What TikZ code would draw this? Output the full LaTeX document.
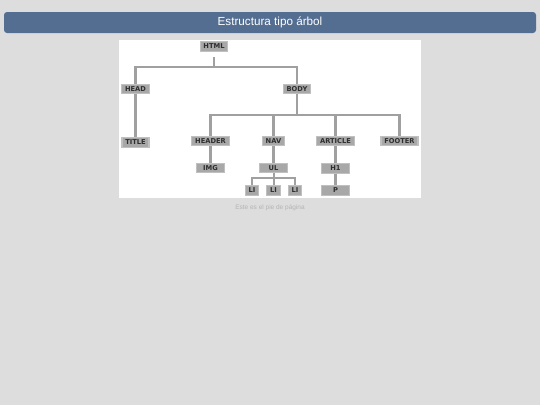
\documentclass[tikz,border=0pt]{standalone}
\usepackage{fontspec}
\setmainfont{Liberation Sans}
\newfontfamily\nodefont{DejaVu Sans}
\definecolor{bgc}{HTML}{DDDDDD}
\definecolor{barc}{HTML}{546E92}
\definecolor{linec}{HTML}{A0A0A0}
\definecolor{boxc}{HTML}{A8A8A8}
\definecolor{glowc}{HTML}{C0C0C0}
\definecolor{txtc}{HTML}{2E2E2E}
\definecolor{footc}{HTML}{B4B4B4}
\pgfdeclarelayer{bottom}
\pgfdeclarelayer{middle}
\pgfsetlayers{bottom,middle,main}
\tikzset{
  tag/.style={fill=boxc, draw=glowc, line width=1.2pt, inner xsep=3.3pt, inner ysep=0pt,
    minimum height=9.5pt, text=txtc, font=\nodefont\bfseries\fontsize{6.7}{7}\selectfont},
  tagw/.style={tag, minimum width=28pt},
  conn/.style={draw=linec, line width=2.5pt},
  thinconn/.style={draw=linec, line width=2pt},
  titletext/.style={text=white, font=\fontsize{11.7}{13}\selectfont, inner sep=0pt},
  foottext/.style={text=footc, font=\fontsize{6.5}{8}\selectfont, inner sep=0pt}
}
\begin{document}
\begin{tikzpicture}[x=1pt,y=-1pt]
\useasboundingbox (0,0) rectangle (540,405);
\begin{pgfonlayer}{bottom}
\fill[bgc] (0,0) rectangle (540,405);
\fill[barc, rounded corners=3pt] (4,12) rectangle (536,33);
\fill[white] (119,39.5) rectangle (421,197.5);
\end{pgfonlayer}
\node[titletext] (ttl) at (270,22.5) {Estructura tipo árbol};

\coordinate (b1) at (214,67);
\coordinate (b2) at (297,115);
\coordinate (b3) at (273.5,178);

\node[tag] (html) at (214,46.5) {HTML};
\node[tag] (head) at (135.5,89) {HEAD};
\node[tag] (body) at (297,89) {BODY};
\node[tag] (title) at (135.5,142.5) {TITLE};
\node[tag] (header) at (210.5,141) {HEADER};
\node[tag] (nav) at (273.5,141) {NAV};
\node[tag] (article) at (335.5,141) {ARTICLE};
\node[tag] (footer) at (399.5,141) {FOOTER};
\node[tagw] (img) at (210.5,168) {IMG};
\node[tagw] (ul) at (273.5,168) {UL};
\node[tagw] (h1) at (335.5,168.5) {H1};
\node[tag] (li1) at (252,190.5) {LI};
\node[tag] (li2) at (273.5,190.5) {LI};
\node[tag] (li3) at (295,190.5) {LI};
\node[tagw] (p) at (335.5,190.5) {P};

\begin{pgfonlayer}{middle}
\draw[conn] ([yshift=-5pt]html.south) -- (b1);
\draw[conn] (head.north) |- (b1) -| (body.north);
\draw[conn] (head.south) -- (title.north);
\draw[conn] (body.south) -- (b2);
\draw[conn] (header.north) |- (b2) -| (footer.north);
\draw[conn] (nav.north) -- (nav.north |- b2);
\draw[conn] (article.north) -- (article.north |- b2);
\draw[conn] (header.south) -- (img.north);
\draw[conn] (nav.south) -- (ul.north);
\draw[conn] (article.south) -- (h1.north);
\draw[conn] (h1.south) -- (p.north);
\draw[thinconn] (ul.south) -- (b3);
\draw[thinconn] (li1.north) |- (b3) -| (li3.north);
\draw[thinconn] (li2.north) -- (li2.north |- b3);
\end{pgfonlayer}

\node[foottext] (foot) at (270,208) {Este es el pie de página};
\end{tikzpicture}
\end{document}
